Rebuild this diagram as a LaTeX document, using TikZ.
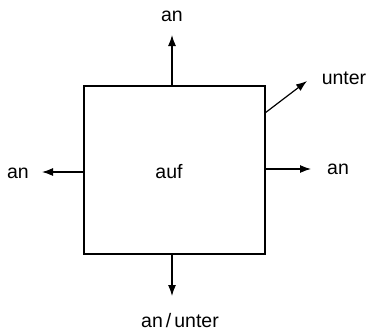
\documentclass[tikz,border=0pt]{standalone}
\usepackage{fontspec}
\setmainfont{Liberation Sans}
\usetikzlibrary{arrows.meta}
\begin{document}
\begin{tikzpicture}[x=1pt,y=-1pt,
  lbl/.style={inner sep=0pt,anchor=base,font=\fontsize{19.5}{22}\selectfont},
  conn/.style={line width=1.2pt,-{Latex[length=11pt,width=8pt]}}]
\useasboundingbox (0,0) rectangle (369,332);
\node[draw,line width=1.2pt,minimum width=181pt,minimum height=168pt,inner sep=0pt] (box) at (174.5,170) {};
\node[lbl] (auf) at (169,178) {auf};
% anchor points on the box edges
\coordinate (ptop) at (172,86);
\coordinate (pbot) at (172,254);
\coordinate (pleft) at (84,172);
\coordinate (pright) at (265,169);
\coordinate (pdiag) at (265,113);
% labels
\node[lbl] (ltop) at (172,21) {an};
\node[lbl] (lbot) at (180,327) {an\hspace{3pt}/\hspace{3pt}unter};
\node[lbl] (lleft) at (18,178) {an};
\node[lbl] (lright) at (338,174) {an};
\node[lbl] (ldiag) at (344,84) {unter};
% arrow tips
\coordinate (etop) at (172,35);
\coordinate (ebot) at (172,296);
\coordinate (eleft) at (42,172);
\coordinate (eright) at (311,169);
\coordinate (ediag) at (307,81);
\draw[conn] (ptop) -- (etop);
\draw[conn] (pbot) -- (ebot);
\draw[conn] (pleft) -- (eleft);
\draw[conn] (pright) -- (eright);
\draw[conn] (pdiag) -- (ediag);
\end{tikzpicture}
\end{document}
